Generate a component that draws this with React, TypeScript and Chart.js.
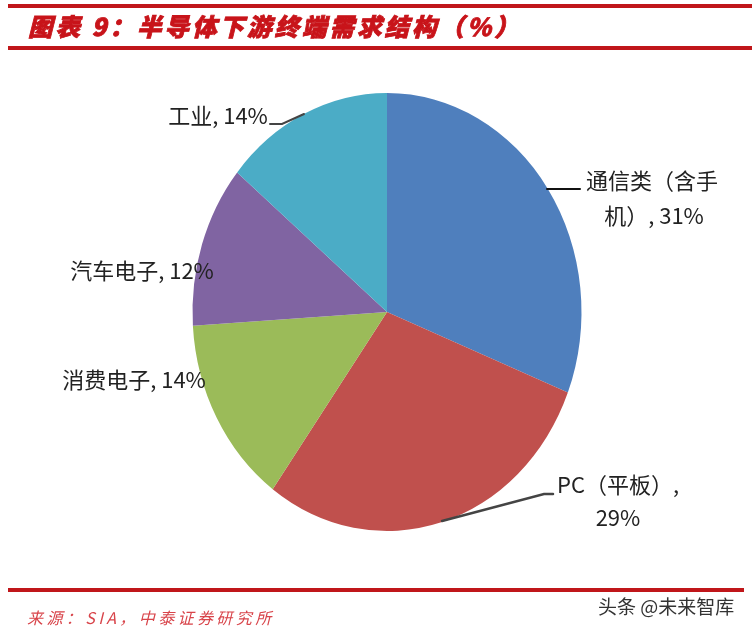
import React, { useEffect, useRef } from "react";
import { Chart, registerables } from "chart.js";

Chart.register(...registerables);

const categories = ["通信类\uFF08含手机\uFF09", "PC\uFF08平板\uFF09", "消费电子", "汽车电子", "工业"];
const shares = [31, 29, 14, 12, 14];
const sliceColors = ["#4f7fbd", "#c0504d", "#9bbb59", "#8064a2", "#4bacc6"];

const titleText = "图表 9\uFF1A半导体下游终端需求结构\uFF08%\uFF09";
const sourceText = "来源\uFF1ASIA\uFF0C中泰证券研究所";
const watermarkText = "头条 @未来智库";

const labelLines = [
  { text: "通信类\uFF08含手", x: 652, y: 181 },
  { text: "机\uFF09, 31%", x: 654, y: 216 },
  { text: "PC\uFF08平板\uFF09,", x: 618, y: 485 },
  { text: "29%", x: 618, y: 518 },
  { text: "消费电子, 14%", x: 134, y: 380 },
  { text: "汽车电子, 12%", x: 142, y: 271 },
  { text: "工业, 14%", x: 218, y: 116 },
];

const leaders = [
  { pts: [[547, 189], [580, 189]], color: "#111111", w: 2 },
  { pts: [[442, 521], [544, 494], [553, 494]], color: "#444444", w: 2.5 },
  { pts: [[270, 124], [282, 124], [304, 114]], color: "#444444", w: 2 },
];

const CJK = '"Noto Sans CJK SC", "Noto Sans", sans-serif';

const ellipsePlugin = {
  id: "ellipse",
  beforeDatasetsDraw(chart: any) {
    const c = chart.ctx;
    const cx = (chart.chartArea.left + chart.chartArea.right) / 2;
    c.save();
    c.translate(cx, 0);
    c.scale(194.5 / 219, 1);
    c.translate(-cx, 0);
  },
  afterDatasetsDraw(chart: any) {
    chart.ctx.restore();
  },
};

const decorPlugin = {
  id: "decor",
  afterDraw(chart: any) {
    const c = chart.ctx;
    c.save();
    // frame rules
    c.fillStyle = "#c0161a";
    c.fillRect(8, 4, 744, 4);
    c.fillRect(8, 46, 744, 4);
    c.fillRect(8, 588, 736, 4);

    // title
    c.textBaseline = "middle";
    c.textAlign = "left";
    c.font = `italic 900 24.5px ${CJK}`;
    c.letterSpacing = "3px";
    c.fillStyle = "#c8141a";
    c.strokeStyle = "#c8141a";
    c.lineWidth = 0.8;
    c.fillText(titleText, 28, 27);
    c.strokeText(titleText, 28, 27);

    // source
    c.font = `italic 16px ${CJK}`;
    c.letterSpacing = "3.4px";
    c.fillStyle = "#d8444a";
    c.fillText(sourceText, 27, 618);

    // watermark
    c.letterSpacing = "0px";
    c.font = `19px ${CJK}`;
    c.fillStyle = "#333333";
    c.fillText(watermarkText, 598, 607);

    // leaders
    c.lineCap = "round";
    leaders.forEach((l) => {
      c.beginPath();
      l.pts.forEach((p, i) => (i ? c.lineTo(p[0], p[1]) : c.moveTo(p[0], p[1])));
      c.strokeStyle = l.color;
      c.lineWidth = l.w;
      c.stroke();
    });

    // labels
    c.font = `22px ${CJK}`;
    c.fillStyle = "#222222";
    c.textAlign = "center";
    labelLines.forEach((l) => c.fillText(l.text, l.x, l.y));
    c.restore();
  },
};

export default function App() {
  const ref = useRef<HTMLCanvasElement>(null);
  useEffect(() => {
    document.body.style.margin = "0";
    document.body.style.background = "#ffffff";
    const chart = new Chart(ref.current!, {
      type: "pie",
      data: {
        labels: categories,
        datasets: [
          {
            data: shares,
            backgroundColor: sliceColors,
            borderWidth: 0,
          },
        ],
      },
      options: {
        animation: false,
        responsive: false,
        maintainAspectRatio: false,
        layout: { padding: { left: 168, right: 146, top: 93, bottom: 103 } },
        plugins: { legend: { display: false }, tooltip: { enabled: false }, title: { display: false } },
      },
      plugins: [ellipsePlugin, decorPlugin],
    } as any);
    return () => chart.destroy();
  }, []);
  return <canvas ref={ref} width={752} height={634} style={{ display: "block", width: 752, height: 634 }} />;
}
